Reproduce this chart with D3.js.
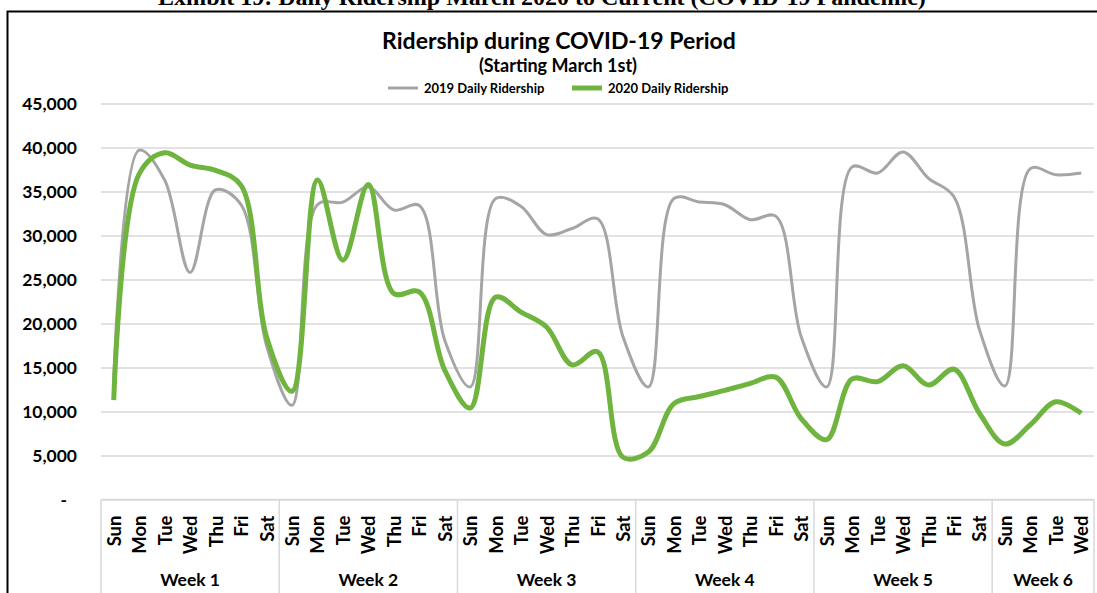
<!DOCTYPE html>
<html>
<head>
<meta charset="utf-8">
<script src="https://cdn.jsdelivr.net/npm/d3@7"></script>
<style>
  body { margin: 0; background: #fff; }
  svg { display: block; }
</style>
</head>
<body>
<svg id="chart"></svg>
<script>
// day / week categories
const days = ["Sun", "Mon", "Tue", "Wed", "Thu", "Fri", "Sat"]
const weeks = ["Week 1", "Week 2", "Week 3", "Week 4", "Week 5", "Week 6"]
const weekLengths = [7, 7, 7, 7, 7, 4]

// daily ridership
const ridership2019 = [
  13600, 39700, 36300, 25800, 35200, 33500, 17500,
  10700, 33500, 33800, 35500, 32900, 33400, 18100,
  12800, 34200, 33300, 30100, 30800, 31900, 18500,
  12800, 34200, 33800, 33500, 31800, 32200, 18500,
  12800, 37800, 37100, 39500, 36500, 34400, 19300,
  12900, 37600, 36900, 37100
]
const ridership2020 = [
  11300, 37000, 39400, 38000, 37400, 35700, 18500,
  12300, 36300, 27200, 35800, 23400, 23600, 14700,
  10400, 23000, 21300, 19600, 15300, 16800, 4800,
  5400, 10900, 11700, 12400, 13200, 13900, 9200,
  6800, 13700, 13400, 15200, 13000, 14800, 9800,
  6300, 8500, 11100, 9800
]
const yTicks = [0, 5000, 10000, 15000, 20000, 25000, 30000, 35000, 40000, 45000]

const seriesNames = ["2019 Daily Ridership", "2020 Daily Ridership"]
const seriesColors = ["#a5a5a5", "#6fb43f"]

let dimensions = {
  width: 1097, height: 593,
  margin: { top: 103.5, right: 3, bottom: 93.5, left: 101 },
}
dimensions.boundedWidth = dimensions.width - dimensions.margin.left - dimensions.margin.right
dimensions.boundedHeight = dimensions.height - dimensions.margin.top - dimensions.margin.bottom

// one id per day, e.g. "1-Sun"
const categories = []
weekLengths.forEach((n, w) => {
  for (let i = 0; i < n; i++) categories.push({ id: `${w + 1}-${days[i]}`, day: days[i], week: w })
})
const data = categories.map((c, i) => ({ ...c, y2019: ridership2019[i], y2020: ridership2020[i] }))

const svg = d3.select("#chart")
  .attr("width", dimensions.width)
  .attr("height", dimensions.height)

const labelFont = "Lato, 'Noto Sans', sans-serif"

// header above the chart, cut by the top edge like in the source page
svg.append("text")
  .attr("x", 542).attr("y", 5)
  .attr("text-anchor", "middle")
  .style("font-family", "'Liberation Serif', 'Times New Roman', serif")
  .style("font-weight", "bold")
  .style("font-size", "24px")
  .text("Exhibit 19: Daily Ridership March 2020 to Current (COVID-19 Pandemic)")

// chart frame (left + top edge)
svg.append("path")
  .attr("d", "M7.5,593 V11.5 H1097")
  .attr("fill", "none")
  .attr("stroke", "#000")
  .attr("stroke-width", 2)

svg.append("text")
  .attr("x", 559).attr("y", 49)
  .attr("text-anchor", "middle")
  .style("font-family", labelFont)
  .style("font-weight", "bold")
  .style("font-size", "23px")
  .text("Ridership during COVID-19 Period")

svg.append("text")
  .attr("x", 558).attr("y", 72)
  .attr("text-anchor", "middle")
  .style("font-family", labelFont)
  .style("font-weight", "bold")
  .style("font-size", "18px")
  .text("(Starting March 1st)")

// legend
const legendX = [388, 572]
const legend = svg.append("g")
seriesNames.forEach((name, i) => {
  const g = legend.append("g").attr("transform", `translate(${legendX[i]}, 88)`)
  g.append("line")
    .attr("x1", 0).attr("x2", 30)
    .attr("stroke", seriesColors[i])
    .attr("stroke-width", i === 0 ? 3 : 5)
  g.append("text")
    .attr("x", 36).attr("y", 4.5)
    .style("font-family", labelFont)
    .style("font-weight", "bold")
    .style("font-size", "13px")
    .text(name)
})

const bounds = svg.append("g")
  .attr("transform", `translate(${dimensions.margin.left}, ${dimensions.margin.top})`)

const xScale = d3.scaleBand()
  .domain(data.map(d => d.id))
  .range([0, dimensions.boundedWidth])

const yScale = d3.scaleLinear()
  .domain([0, 45000])
  .range([dimensions.boundedHeight, 0])

// gridlines + y labels
const yAxisGenerator = d3.axisLeft(yScale)
  .tickValues(yTicks)
  .tickSize(-dimensions.boundedWidth)
  .tickPadding(24)
  .tickFormat(d => d === 0 ? "-" : d3.format(",")(d))

const yAxis = bounds.append("g").call(yAxisGenerator)
yAxis.select(".domain").remove()
yAxis.selectAll(".tick line")
  .attr("stroke", "#d9d9d9")
  .attr("stroke-width", 1.5)
yAxis.selectAll(".tick text")
  .style("font-family", labelFont)
  .style("font-weight", "bold")
  .style("font-size", "17.5px")
  .attr("fill", "#000")
yAxis.selectAll(".tick")
  .filter(d => d === 0)
  .select("text")
  .attr("x", -34)

// category axis: day labels, week labels, separators
const xAxis = bounds.append("g")
  .attr("transform", `translate(0, ${dimensions.boundedHeight})`)

xAxis.append("line")
  .attr("x1", 0).attr("x2", dimensions.boundedWidth)
  .attr("stroke", "#d9d9d9").attr("stroke-width", 1.5)

let start = 0
const weekStarts = weekLengths.map(n => { const s = start; start += n; return s })
const boundaries = weekStarts.map(s => categories[s].id)

xAxis.selectAll(".sep")
  .data(boundaries.concat(["end"]))
  .join("line")
  .attr("x1", d => d === "end" ? dimensions.boundedWidth : xScale(d))
  .attr("x2", d => d === "end" ? dimensions.boundedWidth : xScale(d))
  .attr("y1", 0).attr("y2", 100)
  .attr("stroke", "#d9d9d9").attr("stroke-width", 1.5)

xAxis.selectAll(".day")
  .data(data)
  .join("text")
  .attr("transform", d => `translate(${xScale(d.id) + xScale.bandwidth() / 2 + 7}, 16) rotate(-90)`)
  .attr("text-anchor", "end")
  .style("font-family", labelFont)
  .style("font-weight", "bold")
  .style("font-size", "18.5px")
  .text(d => d.day)

xAxis.selectAll(".week")
  .data(weeks)
  .join("text")
  .attr("x", (d, i) => {
    const a = xScale(categories[weekStarts[i]].id)
    const last = categories[weekStarts[i] + weekLengths[i] - 1].id
    return (a + xScale(last) + xScale.bandwidth()) / 2
  })
  .attr("y", 86)
  .attr("text-anchor", "middle")
  .style("font-family", labelFont)
  .style("font-weight", "bold")
  .style("font-size", "17.5px")
  .text(d => d)

// smoothed lines, like Excel's smooth option
const lineFor = key => d3.line()
  .x(d => xScale(d.id) + xScale.bandwidth() / 2)
  .y(d => yScale(d[key]))
  .curve(d3.curveCatmullRom.alpha(0.5))

bounds.append("path")
  .attr("d", lineFor("y2019")(data))
  .attr("fill", "none")
  .attr("stroke", seriesColors[0])
  .attr("stroke-width", 3)
  .attr("stroke-linejoin", "round")

bounds.append("path")
  .attr("d", lineFor("y2020")(data))
  .attr("fill", "none")
  .attr("stroke", seriesColors[1])
  .attr("stroke-width", 5)
  .attr("stroke-linejoin", "round")
</script>
</body>
</html>
